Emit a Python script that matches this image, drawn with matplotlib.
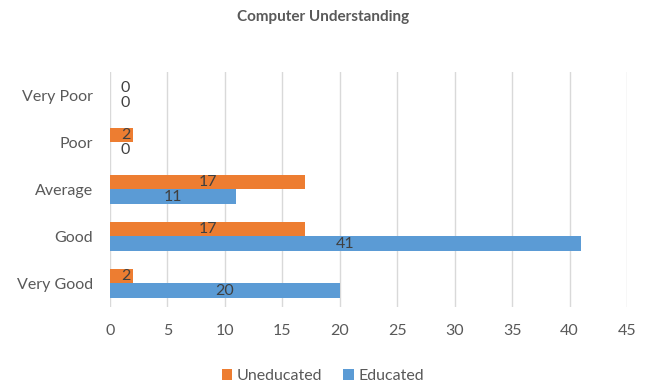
import matplotlib
matplotlib.use("Agg")
import matplotlib.pyplot as plt
import numpy as np

categories = ["Very Good", "Good", "Average", "Poor", "Very Poor"]
uneducated = [2, 17, 17, 2, 0]
educated = [20, 41, 11, 0, 0]
x_ticks = [0, 5, 10, 15, 20, 25, 30, 35, 40, 45]

ORANGE = "#ED7D31"
BLUE = "#5B9BD5"
TEXT = "#595959"
GRID = "#D9D9D9"

plt.rcParams["font.family"] = ["Lato", "DejaVu Sans"]

fig = plt.figure(figsize=(6.46, 3.86), dpi=100)
ax = fig.add_axes([0.1703, 0.2047, 0.8003, 0.6088])

y = np.arange(len(categories))
h = 0.31
b1 = ax.barh(y + h / 2, uneducated, height=h, color=ORANGE, label="Uneducated", zorder=2)
b2 = ax.barh(y - h / 2, educated, height=h, color=BLUE, label="Educated", zorder=2)

# value labels centred on each bar, nudged off the axis for very short bars
for vals, offs in ((uneducated, h / 2), (educated, -h / 2)):
    for yi, v in zip(y, vals):
        ax.text(max(v / 2, 1.35), yi + offs, str(v), ha="center", va="center",
                fontsize=11.5, color="#404040", zorder=3)

ax.set_xlim(0, 45)
ax.set_ylim(-0.5, len(categories) - 0.5)
ax.set_xticks(x_ticks)
ax.set_yticks(y)
ax.set_yticklabels(categories)
ax.grid(axis="x", color=GRID, linewidth=1, zorder=0)
ax.set_axisbelow(True)
for s in ax.spines.values():
    s.set_visible(False)
ax.tick_params(axis="both", length=0, labelsize=11.5, colors=TEXT)
ax.tick_params(axis="x", pad=12)
ax.tick_params(axis="y", pad=12.5)

fig.text(0.5, 0.955, "Computer Understanding", ha="center", va="center",
         fontsize=11, fontweight="bold", color=TEXT)

handles = [b1, b2]
fig.legend(handles, ["Uneducated", "Educated"], loc="center",
           bbox_to_anchor=(0.5, 0.025), ncol=2, frameon=False, fontsize=11.5,
           handlelength=0.65, handleheight=0.65, handletextpad=0.3,
           columnspacing=1.3, labelcolor=TEXT)

fig.savefig("out.png", dpi=100)
